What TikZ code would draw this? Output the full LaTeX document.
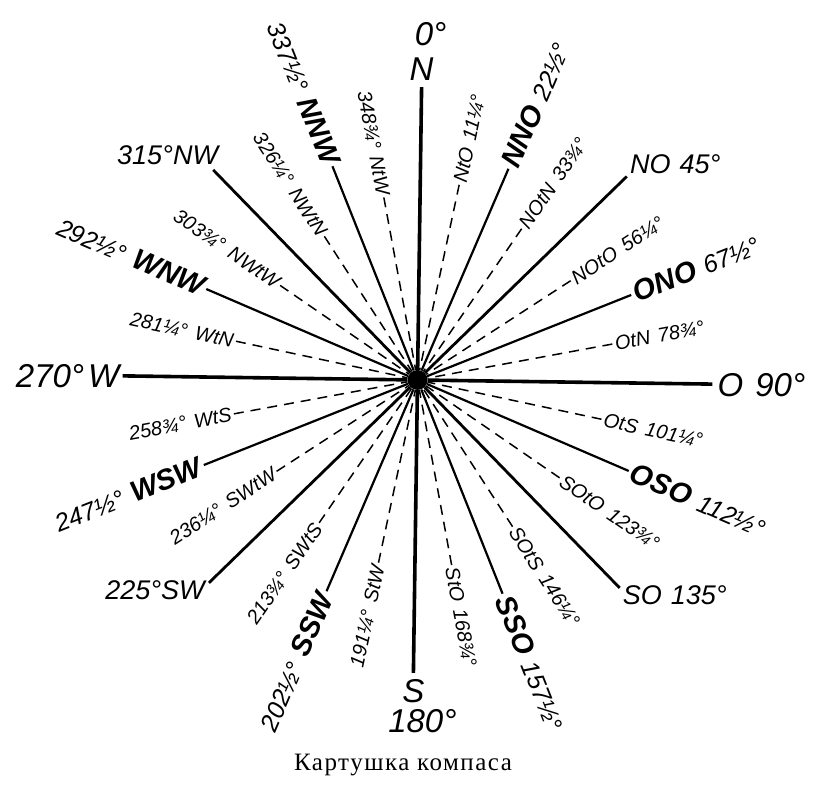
\documentclass[tikz,border=0pt]{standalone}
\usepackage{fontspec}
\setmainfont{Liberation Serif}
\newfontfamily\lab{Liberation Sans}
\newfontfamily\capfont{Liberation Serif}[LetterSpace=6]
\tikzset{
  cardray/.style={line width=3.6pt},
  icardray/.style={line width=2.8pt},
  hray/.style={line width=2.2pt},
  dray/.style={line width=1.5pt, dash pattern=on 10pt off 7pt},
  cardlab/.style={font=\lab\itshape\fontsize{33}{33}\selectfont, inner sep=0pt, text height=24pt, text depth=0pt},
  icardlab/.style={font=\lab\itshape\fontsize{27}{27}\selectfont, inner sep=0pt, text height=19.5pt, text depth=0pt},
  hlab/.style={font=\lab\itshape\fontsize{25}{25}\selectfont, inner sep=3pt, text height=19pt, text depth=0pt},
  dlab/.style={font=\lab\itshape\fontsize{20}{20}\selectfont, inner sep=2.5pt, text height=14pt, text depth=0pt},
}
\newcommand{\hn}[1]{{\bfseries\fontsize{29}{29}\selectfont #1}}
\def\rt{-0.8}
\begin{document}
\begin{tikzpicture}[x=1pt,y=1pt]
\useasboundingbox (0,0) rectangle (824,800);
\node[circle, fill=black, inner sep=0pt, minimum size=20pt] (c) at (417.5,420) {};

% cardinal and intercardinal end points
\coordinate (eN) at ([shift={({90+\rt}:293)}]c.center);
\coordinate (eO) at ([shift={({\rt}:295)}]c.center);
\coordinate (eS) at ([shift={({-90+\rt}:293)}]c.center);
\coordinate (eW) at ([shift={({180+\rt}:295)}]c.center);
\coordinate (eNO) at ([shift={({45+\rt}:292)}]c.center);
\coordinate (eSO) at ([shift={({-45+\rt}:290)}]c.center);
\coordinate (eSW) at ([shift={({-135+\rt}:291)}]c.center);
\coordinate (eNW) at ([shift={({135+\rt}:293)}]c.center);

\draw[cardray] (c) -- (eN);
\draw[cardray] (c) -- (eO);
\draw[cardray] (c) -- (eS);
\draw[cardray] (c) -- (eW);
\draw[icardray] (c) -- (eNO);
\draw[icardray] (c) -- (eSO);
\draw[icardray] (c) -- (eSW);
\draw[icardray] (c) -- (eNW);

% cardinal labels
\node[cardlab, anchor=south] (lN) at ([yshift=6pt]eN) {N};
\node[cardlab, anchor=south] (l0) at ([shift={(9,11)}]lN.north) {0°};
\node[cardlab, anchor=north] (lS) at ([yshift=-5pt]eS) {S};
\node[cardlab, anchor=north] (l180) at ([shift={(9,-6)}]lS.south) {180°};
\node[cardlab, anchor=west] (lO) at ([xshift=5pt]eO) {O\hspace{12pt}90°};
\node[cardlab, anchor=east] (lW) at ([xshift=-3pt]eW) {270°\hspace{4pt}W};

% intercardinal labels
\node[icardlab, anchor=south west] (lNO) at ([shift={(3,3)}]eNO) {NO\hspace{9pt}45°};
\node[icardlab, anchor=north west] (lSO) at ([shift={(3,3)}]eSO) {SO\hspace{9pt}135°};
\node[icardlab, anchor=north east] (lSW) at ([shift={(-4,3)}]eSW) {225°SW};
\node[icardlab, anchor=south east] (lNW) at ([shift={(5,5)}]eNW) {315°NW};

% half winds, right side
\foreach \b/\nm/\t [count=\i] in {22.5/NNO/22½°, 67.5/ONO/67½°, 112.5/OSO/112½°, 157.5/SSO/157½°}{
  \pgfmathsetmacro\a{90-\b+\rt}
  \node[hlab, anchor=west, rotate=\a] (hr\i) at ([shift={(\a:230)}]c.center) {\hn{\nm}\hspace{9pt}\t};
  \draw[hray] (c) -- (hr\i.west);
}
% half winds, left side
\foreach \b/\nm/\t [count=\i] in {202.5/SSW/202½°, 247.5/WSW/247½°, 292.5/WNW/292½°, 337.5/NNW/337½°}{
  \pgfmathsetmacro\a{90-\b+\rt}
  \pgfmathsetmacro\r{\a+180}
  \node[hlab, anchor=east, rotate=\r] (hl\i) at ([shift={(\a:230)}]c.center) {\t\hspace{9pt}\hn{\nm}};
  \draw[hray] (c) -- (hl\i.east);
}
% by-points, right side
\foreach \b/\nm/\t [count=\i] in {11.25/NtO/11¼°, 33.75/NOtN/33¾°, 56.25/NOtO/56¼°, 78.75/OtN/78¾°, 101.25/OtS/101¼°, 123.75/SOtO/123¾°, 146.25/SOtS/146¼°, 168.75/StO/168¾°}{
  \pgfmathsetmacro\a{90-\b+\rt}
  \node[dlab, anchor=east, rotate=\a] (dr\i) at ([shift={(\a:294)}]c.center) {\nm\hspace{8pt}\t};
  \draw[dray] (dr\i.west) -- (c);
}
% by-points, left side
\foreach \b/\nm/\t [count=\i] in {191.25/StW/191¼°, 213.75/SWtS/213¾°, 236.25/SWtW/236¼°, 258.75/WtS/258¾°, 281.25/WtN/281¼°, 303.75/NWtW/303¾°, 326.25/NWtN/326¼°, 348.75/NtW/348¾°}{
  \pgfmathsetmacro\a{90-\b+\rt}
  \pgfmathsetmacro\r{\a+180}
  \node[dlab, anchor=west, rotate=\r] (dl\i) at ([shift={(\a:296)}]c.center) {\t\hspace{8pt}\nm};
  \draw[dray] (dl\i.east) -- (c);
}

\node[font=\capfont\fontsize{25}{25}\selectfont, anchor=base] (cap) at (403,30) {Картушка компаса};
\end{tikzpicture}
\end{document}
